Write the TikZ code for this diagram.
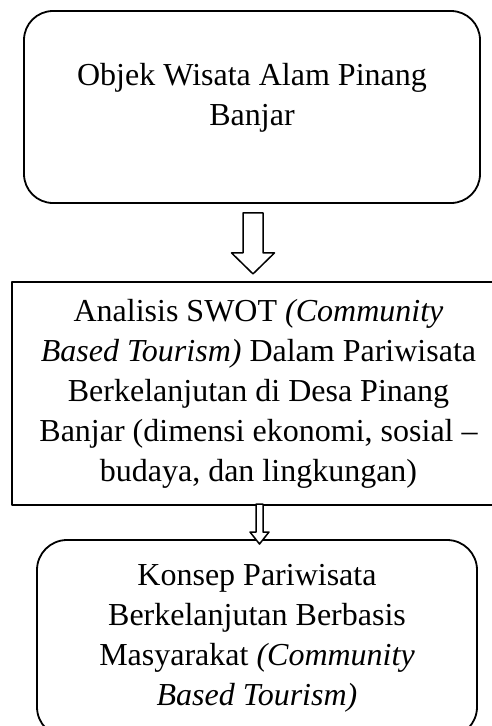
\documentclass[tikz,border=0pt]{standalone}
\usepackage{fontspec}
\setmainfont{Liberation Serif}
\begin{document}
\begin{tikzpicture}[x=1pt, y=-1pt, line join=round,
    teks/.style={align=center, inner sep=0pt, font=\fontsize{32}{40}\selectfont},
    kotakbulat/.style={draw, line width=1.8pt, rounded corners=29pt},
    kotak/.style={draw, line width=2pt},
    panah/.style={draw, line width=1.5pt, fill=white}]
    % Batas gambar
    \useasboundingbox (0, 0) rectangle (492, 726);
    \clip (0, 0) rectangle (492, 726);

    % 1. Kotak objek wisata
    \node[kotakbulat, minimum width=456pt, minimum height=192pt] (objek) at (252, 107) {};
    \node[teks] (objekteks) at ([yshift=9.5pt]objek.center) {Objek Wisata Alam Pinang\\Banjar};

    % 2. Kotak analisis SWOT
    \node[kotak, teks, minimum width=493pt, minimum height=223pt] (swot) at (258.5, 393.5)
        {Analisis SWOT \textit{(Community}\\
         \textit{Based Tourism)} Dalam Pariwisata\\
         Berkelanjutan di Desa Pinang\\
         Banjar (dimensi ekonomi, sosial --\\
         budaya, dan lingkungan)};

    % 3. Kotak konsep pariwisata
    \node[kotakbulat, teks, rounded corners=30pt, minimum width=440pt, minimum height=197pt] (konsep) at (257, 638.5)
        {Konsep Pariwisata\\
         Berkelanjutan Berbasis\\
         Masyarakat \textit{(Community}\\
         \textit{Based Tourism)}};

    % 4. Panah blok di antara kotak
    \coordinate (p1) at ([xshift=1pt, yshift=-9pt]objek.south);
    \draw[panah] (p1) ++(-10, 0) -- ++(0, 40) -- ++(-11.5, 0) -- ++(21.5, 21)
        -- ++(21.5, -21) -- ++(-11.5, 0) -- ++(0, -40) -- cycle;

    \coordinate (p2) at ([xshift=1pt, yshift=2pt]swot.south);
    \draw[panah] (p2) ++(-3.5, 0) -- ++(0, 28) -- ++(-6, 0) -- ++(9.5, 12)
        -- ++(9.5, -12) -- ++(-6, 0) -- ++(0, -28) -- cycle;

\end{tikzpicture}
\end{document}
